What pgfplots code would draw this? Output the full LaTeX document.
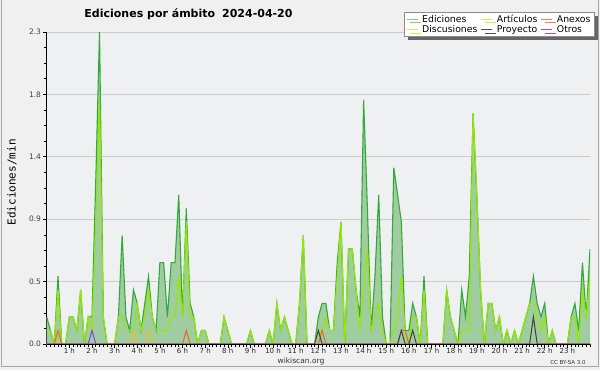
\documentclass[border=0pt]{standalone}
\usepackage{pgfplots}
\pgfplotsset{compat=1.18}
\usepackage{pgfplotstable}
\usepackage{fontspec}
\setmainfont{DejaVu Sans}
\newfontfamily\monofont{DejaVu Sans Mono}
\usetikzlibrary{shadows}
\definecolor{bgouter}{HTML}{F0F0F0}
\definecolor{plotbg}{HTML}{EEF0F2}
\definecolor{fillgreen}{RGB}{160,205,160}
\definecolor{edline}{RGB}{52,168,60}
\definecolor{artline}{RGB}{150,232,0}
\definecolor{anxline}{RGB}{240,100,30}
\definecolor{discline}{RGB}{240,190,30}
\definecolor{proyline}{RGB}{64,64,64}
\definecolor{otrline}{RGB}{130,64,224}
\definecolor{legEd}{RGB}{130,208,130}
\definecolor{legArt}{RGB}{200,240,80}
\definecolor{legAnx}{RGB}{255,128,64}
\definecolor{legDisc}{RGB}{255,216,64}
\definecolor{legProy}{RGB}{80,80,80}
\definecolor{legOtr}{RGB}{144,80,240}
\pgfplotstableread{
i ed art anx disc proy otr
0 0.2 0.1 0 0 0 0
1 0.1 0.1 0 0 0 0
2 0 0 0 0 0 0
3 0.5 0.4 0.1 0 0 0
4 0 0 0 0 0 0
5 0 0 0 0 0 0
6 0.2 0.2 0 0 0 0
7 0.2 0.2 0 0 0 0
8 0.1 0.1 0 0 0 0
9 0.4 0.4 0 0 0 0
10 0 0 0 0 0 0
11 0.2 0.2 0 0 0 0
12 0.2 0.1 0 0 0 0.1
13 1.2 0.9 0 0 0 0
14 2.3 1.8 0 0 0 0
15 0.2 0.2 0 0 0 0
16 0 0 0 0 0 0
17 0 0 0 0 0 0
18 0 0 0 0 0 0
19 0.2 0.2 0 0 0 0
20 0.8 0.2 0 0 0 0
21 0.2 0.1 0 0 0 0
22 0.1 0.1 0 0 0 0
23 0.4 0.1 0 0.1 0 0
24 0.3 0.3 0 0 0 0
25 0.1 0.1 0 0 0 0
26 0.3 0.2 0 0 0 0
27 0.5 0.4 0 0.1 0 0
28 0.2 0.2 0 0 0 0
29 0.1 0.1 0 0 0 0
30 0.6 0.1 0 0 0 0
31 0.6 0.1 0 0 0 0
32 0.2 0.1 0 0 0 0
33 0.6 0.2 0 0 0 0
34 0.6 0.2 0 0 0 0
35 1.1 0.5 0 0 0 0
36 0.2 0.2 0 0 0 0
37 1.0 0.9 0.1 0 0 0
38 0.3 0.2 0 0 0 0
39 0.2 0.2 0 0 0 0
40 0 0 0 0 0 0
41 0.1 0.1 0 0 0 0
42 0.1 0.1 0 0 0 0
43 0 0 0 0 0 0
44 0 0 0 0 0 0
45 0 0 0 0 0 0
46 0 0 0 0 0 0
47 0.2 0.2 0 0 0 0
48 0.1 0.1 0 0 0 0
49 0 0 0 0 0 0
50 0 0 0 0 0 0
51 0 0 0 0 0 0
52 0 0 0 0 0 0
53 0 0 0 0 0 0
54 0.1 0.1 0 0 0 0
55 0 0 0 0 0 0
56 0 0 0 0 0 0
57 0 0 0 0 0 0
58 0 0 0 0 0 0
59 0.1 0.1 0 0 0 0
60 0 0 0 0 0 0
61 0.3 0.3 0 0 0 0
62 0.1 0.1 0 0 0 0
63 0.2 0.2 0 0 0 0
64 0.1 0.1 0 0 0 0
65 0 0 0 0 0 0
66 0 0 0 0 0 0
67 0.3 0.3 0 0 0 0
68 0.8 0.8 0 0 0 0
69 0 0 0 0 0 0
70 0 0 0 0 0 0
71 0 0 0 0 0 0
72 0.2 0.1 0 0 0.1 0
73 0.3 0.1 0.1 0 0 0
74 0.3 0.2 0 0 0 0
75 0.1 0.1 0 0 0 0
76 0.1 0.1 0 0 0 0
77 0.6 0.5 0 0 0 0
78 0.9 0.9 0 0 0 0
79 0 0 0 0 0 0
80 0.7 0.7 0 0 0 0
81 0.7 0.7 0 0 0 0
82 0.4 0.4 0 0 0 0
83 0.2 0.1 0 0 0 0
84 1.8 0.4 0 0 0 0
85 1.0 0.7 0 0 0 0
86 0.1 0.1 0 0 0 0
87 0.5 0.2 0 0 0 0
88 1.1 0.3 0 0 0 0
89 0.2 0.1 0 0 0 0
90 0 0 0 0 0 0
91 0 0 0 0 0 0
92 1.3 0.1 0 0 0 0
93 1.1 0.2 0 0 0 0
94 0.9 0.5 0.1 0 0.1 0
95 0.1 0.1 0.1 0 0 0
96 0.1 0 0 0 0 0
97 0.3 0.2 0 0 0.1 0
98 0.2 0.2 0 0 0 0
99 0 0 0 0 0 0
100 0.5 0.4 0 0 0 0
101 0 0 0 0 0 0
102 0 0 0 0 0 0
103 0 0 0 0 0 0
104 0 0 0 0 0 0
105 0 0 0 0 0 0
106 0.4 0.4 0 0 0 0
107 0.2 0.2 0 0 0 0
108 0.1 0.1 0 0 0 0
109 0 0 0 0 0 0
110 0.4 0.1 0 0 0 0
111 0.2 0.1 0 0 0 0
112 0.5 0.1 0 0 0 0
113 1.7 1.7 0 0 0 0
114 1.1 1.1 0 0 0 0
115 0.4 0.4 0 0 0 0
116 0 0 0 0 0 0
117 0.3 0.3 0 0 0 0
118 0.3 0.3 0 0 0 0
119 0.1 0.1 0 0 0 0
120 0.2 0.2 0 0 0 0
121 0 0 0 0 0 0
122 0.1 0.1 0 0 0 0
123 0 0 0 0 0 0
124 0.1 0.1 0 0 0 0
125 0 0 0 0 0 0
126 0.1 0.1 0 0 0 0
127 0.2 0.2 0 0 0 0
128 0.3 0.3 0 0 0 0
129 0.5 0.3 0 0 0.2 0
130 0.3 0.2 0 0 0 0
131 0.2 0.1 0 0 0 0
132 0.3 0.2 0 0 0 0
133 0 0 0 0 0 0
134 0.1 0.1 0 0 0 0
135 0 0 0 0 0 0
136 0 0 0 0 0 0
137 0 0 0 0 0 0
138 0 0 0 0 0 0
139 0.2 0.2 0 0 0 0
140 0.3 0.2 0 0 0 0
141 0.1 0 0 0 0 0
142 0.6 0.4 0 0 0 0
143 0.2 0.2 0 0 0 0
144 0.7 0.5 0 0 0 0
}\chartdata
\begin{document}
\begin{tikzpicture}
\path[use as bounding box, fill=bgouter] (0,0) rectangle (600pt,370pt);
\draw[black!35, line width=1.2pt] (1.2pt,370pt) -- (1.2pt,3.4pt) -- (598.8pt,3.4pt) -- (598.8pt,370pt);
\begin{axis}[
  at={(46.7pt,26pt)}, anchor=south west,
  width=543.3pt, height=312pt, scale only axis,
  xmin=0, xmax=144, ymin=0, ymax=2.3,
  axis x line*=bottom, axis y line*=left,
  axis line style={black, line width=0.9pt},
  axis background/.style={fill=plotbg},
  xtick={6,12,...,138},
  xticklabels={1 h,2 h,3 h,4 h,5 h,6 h,7 h,8 h,9 h,10 h,11 h,12 h,13 h,14 h,15 h,16 h,17 h,18 h,19 h,20 h,21 h,22 h,23 h},
  minor xtick={0,1,...,144},
  ytick={0,0.46,0.92,1.38,1.84,2.3},
  yticklabels={0.0,0.5,0.9,1.4,1.8,2.3},
  minor y tick num=3,
  tick align=outside,
  major tick length=4pt, minor tick length=3pt,
  tick style={black, line width=0.6pt},
  ymajorgrids, grid style={black!20, line width=0.8pt},
  /pgf/number format/assume math mode=true,
  xticklabel style={font=\fontsize{7}{8}\selectfont, text=black!85, inner sep=1pt, yshift=1.5pt},
  yticklabel style={font=\fontsize{7.5}{8}\selectfont, text=black!75, inner sep=1.5pt},
  ylabel={Ediciones/min},
  ylabel style={font=\monofont\fontsize{11}{12}\selectfont, at={(axis description cs:-0.0639,0.518)}, anchor=center},
  legend columns=3,
  legend cell align=left,
  legend image code/.code={\draw[#1] (0pt,0pt) -- (11pt,0pt);},
  legend style={at={(axis description cs:0.6577,1.0631)}, anchor=north west,
    draw=black!45, fill=white, font=\fontsize{9.3}{10}\selectfont,
    inner xsep=2pt, inner ysep=0.5pt, row sep=-2.5pt,
    drop shadow={shadow xshift=3.5pt, shadow yshift=-3.5pt, fill=black!60, opacity=1},
    /tikz/every odd column/.append style={column sep=2pt},
    /tikz/every even column/.append style={column sep=1.5pt}},
]
\addplot[fill=fillgreen, draw=none, forget plot] table[x=i,y=ed]{\chartdata} \closedcycle;
\addplot[edline, line width=1.1pt, forget plot] table[x=i,y=ed]{\chartdata};
\addplot[artline, line width=1.1pt, forget plot] table[x=i,y=art]{\chartdata};
\addplot[anxline, line width=1pt, forget plot] table[x=i,y=anx]{\chartdata};
\addplot[discline, line width=1pt, forget plot] table[x=i,y=disc]{\chartdata};
\addplot[proyline, line width=1pt, forget plot] table[x=i,y=proy]{\chartdata};
\addplot[otrline, line width=1pt, forget plot] table[x=i,y=otr]{\chartdata};
\draw[black, line width=0.9pt] (rel axis cs:0,0) -- (rel axis cs:1,0);
\addlegendimage{draw=legEd, line width=1pt}
\addlegendentry{Ediciones}
\addlegendimage{draw=legArt, line width=1pt}
\addlegendentry{Artículos}
\addlegendimage{draw=legAnx, line width=1pt}
\addlegendentry{Anexos}
\addlegendimage{draw=legDisc, line width=1pt}
\addlegendentry{Discusiones}
\addlegendimage{draw=legProy, line width=1pt}
\addlegendentry{Proyecto}
\addlegendimage{draw=legOtr, line width=1pt}
\addlegendentry{Otros}
\end{axis}
\node[font=\bfseries\fontsize{11}{13}\selectfont] at (188.5pt,356pt) {Ediciones por ámbito\hspace{7pt}2024-04-20};
\node[font=\fontsize{7.5}{9}\selectfont, text=black!80] at (301pt,9pt) {wikiscan.org};
\node[font=\fontsize{5.5}{7}\selectfont, text=black!80] at (568pt,8pt) {CC BY-SA 3.0};
\end{tikzpicture}
\end{document}
